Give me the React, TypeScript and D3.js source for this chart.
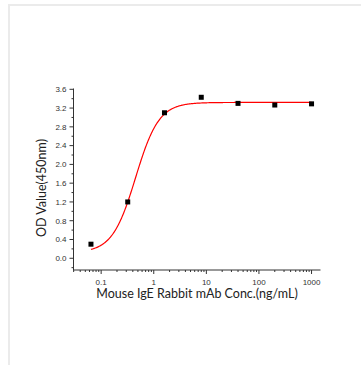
import React from "react";
import * as d3 from "d3";

const concentrations = [0.064, 0.32, 1.6, 8, 40, 200, 1000];
const odValues = [0.3, 1.2, 3.1, 3.43, 3.3, 3.265, 3.29];
const fitParams = { bottom: 0.12, top: 3.32, ec50: 0.452, hill: 1.96 };
const yTicks = [0.0, 0.4, 0.8, 1.2, 1.6, 2.0, 2.4, 2.8, 3.2, 3.6];
const xTicks = [0.1, 1, 10, 100, 1000];
const xTickLabels = ["0.1", "1", "10", "100", "1000"];

const W = 361, H = 365;
const left = 73.5, right = 320.5, topY = 88.5, bottomY = 270;

export default function App() {
  const x = d3.scaleLog().domain([0.0298, 1480]).range([left, right]);
  const y = d3.scaleLinear().domain([-0.25, 3.6]).range([bottomY, 89.3]);
  const f = (c: number) =>
    fitParams.bottom + (fitParams.top - fitParams.bottom) / (1 + Math.pow(fitParams.ec50 / c, fitParams.hill));
  const curvePts = d3.range(0, 401).map((i) => {
    const lc = Math.log10(0.064) + (i / 400) * (Math.log10(1000) - Math.log10(0.064));
    const c = Math.pow(10, lc);
    return [x(c), y(f(c))] as [number, number];
  });
  const line = d3.line();
  const minorX: number[] = [];
  for (let e = -2; e <= 3; e++) {
    for (let m = 2; m <= 9; m++) {
      const v = m * Math.pow(10, e);
      if (v >= 0.0298 && v <= 1480) minorX.push(v);
    }
  }
  const minorY = d3.range(-0.2, 3.6, 0.4).map((v) => +v.toFixed(2));
  const tickFont = "'Liberation Sans', Arial, sans-serif";
  const titleFont = "Lato, 'Open Sans', sans-serif";
  return (
    <svg width={W} height={H} style={{ position: "absolute", left: 0, top: 0 }}>
      <rect x={0} y={0} width={W} height={H} fill="#fff" />
      <line x1={8} y1={5} x2={W} y2={5} stroke="#ebebeb" strokeWidth={2} />
      <line x1={9} y1={4} x2={9} y2={H} stroke="#ebebeb" strokeWidth={2} />
      {/* axes */}
      <line x1={left} y1={topY} x2={left} y2={bottomY} stroke="#333" strokeWidth={1} />
      <line x1={left} y1={bottomY} x2={right} y2={bottomY} stroke="#333" strokeWidth={1} />
      {yTicks.map((t) => (
        <g key={"y" + t}>
          <line x1={left - 4} x2={left} y1={y(t)} y2={y(t)} stroke="#333" />
          <text x={left - 7} y={y(t)} dy="0.35em" textAnchor="end" fontSize={8} fill="#333" fontFamily={tickFont}>
            {t.toFixed(1)}
          </text>
        </g>
      ))}
      {minorY.map((t) => (
        <line key={"my" + t} x1={left - 2} x2={left} y1={y(t)} y2={y(t)} stroke="#333" />
      ))}
      {xTicks.map((t, i) => (
        <g key={"x" + t}>
          <line x1={x(t)} x2={x(t)} y1={bottomY} y2={bottomY + 4} stroke="#333" />
          <text x={x(t)} y={bottomY + 12} dy="0.35em" textAnchor="middle" fontSize={8} fill="#333" fontFamily={tickFont}>
            {xTickLabels[i]}
          </text>
        </g>
      ))}
      {minorX.map((t) => (
        <line key={"mx" + t} x1={x(t)} x2={x(t)} y1={bottomY} y2={bottomY + 2} stroke="#333" />
      ))}
      <path d={line(curvePts) || ""} fill="none" stroke="#ff0000" strokeWidth={1.2} />
      {concentrations.map((c, i) => (
        <rect key={"p" + i} x={x(c) - 2.5} y={y(odValues[i]) - 2.5} width={5} height={5} fill="#000" />
      ))}
      <text
        transform={`translate(42,188) rotate(-90)`}
        textAnchor="middle"
        dy="0.35em"
        fontSize={12.5}
        fill="#222"
        fontFamily={titleFont}
      >
        OD Value(450nm)
      </text>
      <text x={197} y={294} dy="0.35em" textAnchor="middle" fontSize={12.5} fill="#222" fontFamily={titleFont}>
        Mouse IgE Rabbit mAb Conc.(ng/mL)
      </text>
    </svg>
  );
}
